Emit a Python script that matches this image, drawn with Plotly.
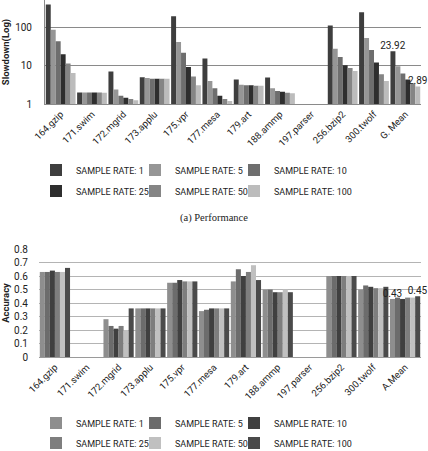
import plotly.graph_objects as go

W, H = 428, 451

perf_categories = ["164.gzip", "171.swim", "172.mgrid", "173.applu", "175.vpr", "177.mesa",
                   "179.art", "188.ammp", "197.parser", "256.bzip2", "300.twolf", "G. Mean"]
acc_categories = ["164.gzip", "171.swim", "172.mgrid", "173.applu", "175.vpr", "177.mesa",
                  "179.art", "188.ammp", "197.parser", "256.bzip2", "300.twolf", "A.Mean"]
series_names = ["SAMPLE RATE: 1", "SAMPLE RATE: 5", "SAMPLE RATE: 10",
                "SAMPLE RATE: 25", "SAMPLE RATE: 50", "SAMPLE RATE: 100"]

perf_sr1 = [400, 2.0, 7.1, 5.0, 196, 15.4, 4.4, 4.9, None, 113, 250, 23.92]
perf_sr5 = [87, 2.0, 2.4, 4.8, 41.6, 4.0, 3.2, 2.6, None, 28, 53, 9.7]
perf_sr10 = [44, 2.0, 1.64, 4.6, 22, 2.6, 3.1, 2.2, None, 17, 26, 6.3]
perf_sr25 = [20, 2.0, 1.46, 4.6, 9.3, 1.64, 3.1, 2.1, None, 10.3, 12.1, 4.4]
perf_sr50 = [11.4, 2.0, 1.35, 4.6, 5.2, 1.35, 3.0, 1.97, None, 8.8, 6.0, 3.45]
perf_sr100 = [6.5, 1.97, 1.25, 4.55, 3.1, 1.2, 3.0, 1.9, None, 7.3, 4.0, 2.89]

acc_sr1 = [0.63, None, 0.28, 0.36, 0.55, 0.34, 0.56, 0.50, None, 0.60, 0.50, 0.43]
acc_sr5 = [0.63, None, 0.23, 0.36, 0.55, 0.35, 0.65, 0.50, None, 0.60, 0.53, 0.44]
acc_sr10 = [0.64, None, 0.21, 0.36, 0.57, 0.36, 0.60, 0.48, None, 0.60, 0.52, 0.43]
acc_sr25 = [0.63, None, 0.23, 0.36, 0.56, 0.36, 0.63, 0.48, None, 0.60, 0.51, 0.44]
acc_sr50 = [0.63, None, 0.20, 0.36, 0.56, 0.36, 0.68, 0.50, None, 0.60, 0.51, 0.44]
acc_sr100 = [0.66, None, 0.36, 0.36, 0.56, 0.36, 0.57, 0.48, None, 0.60, 0.52, 0.45]

# data labels shown on the mean group: (series index, label text)
perf_labels = [(0, "23.92"), (5, "2.89")]
acc_labels = [(0, "0.43"), (5, "0.45")]

perf_colors = ["#3e3e3e", "#969696", "#6e6e6e", "#2e2e2e", "#858585", "#bcbcbc"]
acc_colors = ["#8e8e8e", "#6c6c6c", "#404040", "#7e7e7e", "#c0c0c0", "#4a4a4a"]

FONT = "Roboto, Liberation Sans, sans-serif"

perf_series = [perf_sr1, perf_sr5, perf_sr10, perf_sr25, perf_sr50, perf_sr100]
acc_series = [acc_sr1, acc_sr5, acc_sr10, acc_sr25, acc_sr50, acc_sr100]

fig = go.Figure()

def add_group(cats, series, colors, xa, ya, legend_offset, labels, grp):
    for i, (name, vals) in enumerate(zip(series_names, series)):
        n = legend_offset + i + 1
        fig.add_trace(go.Bar(
            x=cats, y=vals, name=name, xaxis=xa, yaxis=ya,
            marker=dict(color=colors[i], line=dict(width=0)),
            offsetgroup=f"{grp}{i}",
            legend="legend" if n == 1 else f"legend{n}",
        ))
    # label overlays drawn last so the text sits above all bars
    for i, lab in labels:
        vals = series[i]
        txt = [""] * len(vals)
        txt[-1] = lab
        fig.add_trace(go.Bar(
            x=cats, y=vals, xaxis=xa, yaxis=ya, showlegend=False,
            marker=dict(color="rgba(0,0,0,0)", line=dict(width=0)),
            offsetgroup=f"{grp}{i}", hoverinfo="skip",
            text=txt, textposition="outside", constraintext="none", cliponaxis=False,
            textfont=dict(size=10, color="#222", family=FONT),
        ))

add_group(perf_categories, perf_series, perf_colors, "x", "y", 0, perf_labels, "p")
add_group(acc_categories, acc_series, acc_colors, "x2", "y2", 6, acc_labels, "a")

def py(px):
    return 1 - px / H

def leg(xpx, ypx):
    return dict(orientation="h", x=xpx / W, xanchor="left", y=py(ypx), yanchor="middle",
                bgcolor="rgba(0,0,0,0)",
                font=dict(size=9, color="#222", family=FONT))

col_x = [36, 135, 234]
legends = {}
for block, rows in ((0, (170, 191)), (6, (423, 443))):
    for i in range(6):
        n = block + i + 1
        key = "legend" if n == 1 else f"legend{n}"
        legends[key] = leg(col_x[i % 3], rows[i // 3])

tickfont = dict(size=9.5, color="#222", family=FONT)

fig.update_layout(
    width=W, height=H, margin=dict(l=0, r=0, t=0, b=0, autoexpand=False),
    paper_bgcolor="white", plot_bgcolor="white",
    barmode="group", bargap=0.05, bargroupgap=0.0,
    font=dict(family=FONT, color="#222"),
    xaxis=dict(domain=[45 / W, 421 / W], anchor="y", tickangle=-45, tickfont=tickfont,
               showline=True, linecolor="#8a8a8a", linewidth=1, ticks="", showgrid=False),
    yaxis=dict(domain=[py(104), 1.0], anchor="x", type="log", range=[0, 2.72],
               tickvals=[1, 10, 100], ticktext=["1", "10", "100"], tickfont=dict(size=10, color="#222", family=FONT),
               showgrid=True, gridcolor="#8a8a8a", gridwidth=1, showline=True, linecolor="#8a8a8a",
               ticks="", ticklabelstandoff=10,
               title=dict(text="<b>Slowdown(Log)</b>", font=dict(size=9.5, color="#222", family=FONT), standoff=14)),
    xaxis2=dict(domain=[39 / W, 421 / W], anchor="y2", tickangle=-45, tickfont=tickfont,
                showline=True, linecolor="#9a9a9a", linewidth=1, ticks="", showgrid=False),
    yaxis2=dict(domain=[py(357), py(249)], anchor="x2", range=[0, 0.8], dtick=0.1,
                tickfont=dict(size=10, color="#222", family=FONT),
                showgrid=True, gridcolor="#b4b4b4", gridwidth=1, zeroline=False,
                ticks="", ticklabelstandoff=10,
                title=dict(text="<b>Accuracy</b>", font=dict(size=9.5, color="#222", family=FONT), standoff=8)),
    annotations=[dict(text="(a) Performance", x=0.5, y=py(218), xref="paper", yref="paper",
                      showarrow=False, xanchor="center", yanchor="middle",
                      font=dict(size=10.5, color="#222", family="Liberation Serif, DejaVu Serif, serif"))],
    **legends,
)

fig.write_html("out.html")
